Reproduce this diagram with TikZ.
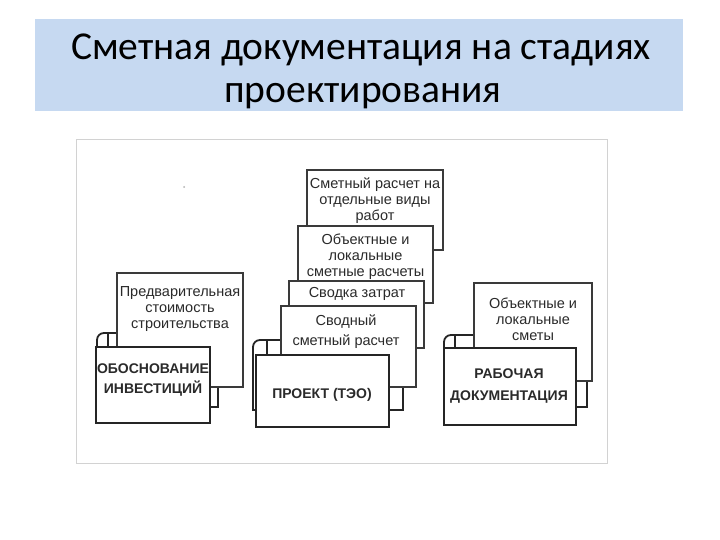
\documentclass[tikz,border=0pt]{standalone}
\usepackage{fontspec}
\setmainfont{Liberation Sans}
\newfontfamily\titlefont{Carlito}
\definecolor{band}{HTML}{C6D9F1}
\definecolor{docline}{HTML}{3A3A3A}
\definecolor{frontline}{HTML}{252525}
\definecolor{panelline}{HTML}{D2D2D2}
\definecolor{txt}{HTML}{2A2A2A}
\tikzset{
  doc/.style={draw=docline, line width=1.4pt, fill=white, rectangle, inner sep=0pt},
  front/.style={draw=frontline, line width=2.8pt, fill=white, rectangle, inner sep=0pt},
  back/.style={draw=frontline, line width=1.8pt, fill=white},
  lbl/.style={font=\fontsize{14.5}{16}\selectfont, align=center, text=txt, inner sep=0pt},
  blbl/.style={font=\fontsize{14}{20}\selectfont\bfseries, align=center, text=txt, inner sep=0pt},
  ttl/.style={font=\titlefont\fontsize{39.5}{43}\selectfont, text=black, inner sep=0pt, anchor=base}
}
\begin{document}
\begin{tikzpicture}[x=1pt,y=-1pt]
\useasboundingbox (0,0) rectangle (720,540);
\fill[white] (0,0) rectangle (720,540);
% title band
\node[fill=band, minimum width=648pt, minimum height=92pt, inner sep=0pt] (band) at (359,65) {};
\node[ttl] (title1) at (361,60) {Сметная документация на стадиях};
\node[ttl] (title2) at (363,103) {проектирования};
% picture panel
\node[draw=panelline, line width=1pt, minimum width=531pt, minimum height=323pt, inner sep=0pt] (panel) at (341.5,301.5) {};
\fill[gray!60] (184,187) circle (1pt);

% ---- folder 1
\path[back] (97,407) [rounded corners=7pt] -- (97,333) [sharp corners] -- (218,333) -- (218,407) -- cycle;
\draw[frontline, line width=1.2pt] (108,334) -- (108,347);
\node[doc, minimum width=126pt, minimum height=114pt] (doc1) at (180,330) {};
\node[lbl] (t1) at (180,309) {Предварительная\\стоимость\\строительства};
\node[front, minimum width=114pt, minimum height=76pt] (front1) at (153,385) {};
\node[blbl] (f1) at (153,380) {ОБОСНОВАНИЕ\\ИНВЕСТИЦИЙ};

% ---- folder 2
\path[back] (253,410) [rounded corners=7pt] -- (253,340) [sharp corners] -- (403,340) -- (403,410) -- cycle;
\draw[frontline, line width=1.2pt] (267,341) -- (267,355);
\node[doc, minimum width=136pt, minimum height=80pt] (docA) at (375,210) {};
\node[lbl] (tA) at (375,200.5) {Сметный расчет на\\отдельные виды\\работ};
\node[doc, minimum width=135pt, minimum height=77pt] (docB) at (365.5,264.5) {};
\node[lbl] (tB) at (365.5,257) {Объектные и\\локальные\\сметные расчеты};
\node[doc, minimum width=135pt, minimum height=67pt] (docC) at (356.5,314.5) {};
\node[lbl] (tC) at (357,294) {Сводка затрат};
\node[doc, minimum width=135pt, minimum height=81pt] (docD) at (348.5,346.5) {};
\node[lbl, font=\fontsize{14.5}{20}\selectfont] (tD) at (346,332) {Сводный\\сметный расчет};
\node[front, minimum width=133pt, minimum height=72pt] (front2) at (322.5,391) {};
\node[blbl] (f2) at (322,395) {ПРОЕКТ (ТЭО)};

% ---- folder 3
\path[back] (444,407) [rounded corners=7pt] -- (444,335) [sharp corners] -- (587,335) -- (587,407) -- cycle;
\draw[frontline, line width=1.2pt] (455,336) -- (455,348);
\node[doc, minimum width=118pt, minimum height=98pt] (doc3) at (533,332) {};
\node[lbl] (t3) at (533,319) {Объектные и\\локальные\\сметы};
\node[front, minimum width=132pt, minimum height=77pt] (front3) at (510,386.5) {};
\node[blbl, font=\fontsize{14}{22}\selectfont\bfseries] (f3) at (509,386) {РАБОЧАЯ\\ДОКУМЕНТАЦИЯ};
\end{tikzpicture}
\end{document}
